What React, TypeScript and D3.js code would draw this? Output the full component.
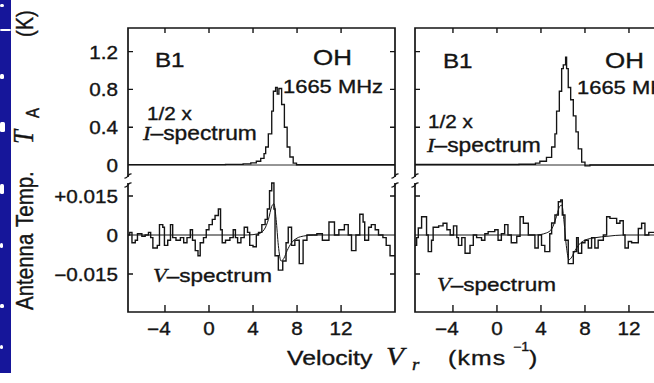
import React from "react";
import * as d3 from "d3";

const W = 654;
const H = 383;
const SX = 1.18; // horizontal stretch of the scanned lettering
const SANS = "'Liberation Sans', Arial, Helvetica, sans-serif";
const SERIF = "'Liberation Serif', 'Times New Roman', serif";
const INK = "#141414";

// ---- ticks ----
const xTicks = [-4, 0, 4, 8, 12];
const iTicks = [0, 0.4, 0.8, 1.2];
const iTickLabels = ["0", "0.4", "0.8", "1.2"];
const vTicks = [-0.015, 0, 0.015];
const vTickLabels = ["\u22120.015", "0", "+0.015"];

// ---- left panel: 1/2 x I-spectrum (step starts, km/s ; K) ----
const leftIVel = [-7.36, 1.5, 3.1, 3.8, 4.3, 4.7, 5.0, 5.15, 5.39, 5.7, 5.85, 6.05, 6.2, 6.35, 6.6, 6.85, 7.1, 7.35, 7.65, 7.95, 16.9];
const leftIVal = [0.004, 0.006, 0.012, 0.022, 0.04, 0.07, 0.12, 0.19, 0.33, 0.57, 0.78, 0.82, 0.75, 0.81, 0.64, 0.4, 0.19, 0.085, 0.02, 0.003, 0.003];

// ---- left panel: V-spectrum (step starts, km/s ; mK) ----
const leftVVel = [-7.36, -7.2, -7.0, -6.7, -6.5, -6.1, -5.8, -5.5, -5.3, -5.1, -4.7, -4.5, -4.2, -4.05, -3.75, -3.5, -3.3, -3.0, -2.6, -2.3, -2.0, -1.7, -1.5, -1.25, -1.0, -0.8, -0.5, -0.25, 0.0, 0.3, 0.55, 0.85, 1.05, 1.2, 1.5, 1.9, 2.2, 2.4, 2.6, 2.9, 3.2, 3.5, 3.7, 4.0, 4.3, 4.5, 4.8, 5.1, 5.3, 5.5, 5.7, 5.9, 6.0, 6.3, 6.7, 7.0, 7.2, 7.5, 7.8, 8.2, 8.55, 8.9, 9.8, 10.3, 10.9, 11.4, 11.8, 12.3, 12.65, 12.95, 13.35, 13.7, 14.0, 14.15, 14.5, 14.75, 15.1, 15.4, 15.8, 16.1, 16.45, 16.9];
const leftVmK = [0, 1, -3, -2, 0.5, -0.5, 0, 1, -1, -5, -4, 4, 3, -4, -2, 4, -1, -2, -1, -3, -1, 2, -2, -6, -8, -3, -1, 2, 4, 6, 7.5, 10, 2, -3, -2, -1, 2, -1, -3, -1, 3, 1, -4, -4.5, 0, 1, 4, 6, 10, 17, 20, 10, -8, -13.5, -10, -3, 3, -4, -2, -11, -2, 0, 0.5, -2, 5, 0, 2, 4, 0, -6, 0, 8, 5, -2, 3, 4, 2, 0, -1, -4, -8, -8];

// ---- left panel: fitted curve (km/s ; mK) ----
const leftFitVel = [-7.36, 3.5, 4.5, 5.0, 5.4, 5.7, 5.9, 6.1, 6.3, 6.55, 6.8, 7.1, 7.5, 8.0, 8.6, 9.5, 16.9];
const leftFitmK = [0, 0, 0.5, 2, 6, 11, 12, 6, -4, -10, -9, -6, -3, -1.2, -0.4, 0, 0];

// ---- right panel: 1/2 x I-spectrum ----
const rightIVel = [-7.45, 2.0, 3.5, 3.9, 4.5, 4.97, 5.27, 5.42, 5.67, 5.88, 6.03, 6.24, 6.33, 6.48, 6.7, 6.94, 7.18, 7.39, 7.7, 8.0, 8.45, 16.8];
const rightIVal = [0.005, 0.008, 0.02, 0.04, 0.08, 0.19, 0.33, 0.57, 0.78, 1.02, 1.06, 1.14, 1.02, 0.82, 0.69, 0.52, 0.35, 0.17, 0.03, -0.01, 0, 0];

// ---- right panel: V-spectrum ----
const rightVVel = [-7.45, -7.3, -7.15, -6.85, -6.4, -6.25, -5.95, -5.8, -5.3, -4.9, -4.55, -4.25, -3.95, -3.65, -3.5, -3.2, -2.9, -2.45, -2.15, -1.85, -1.4, -1.1, -0.8, -0.2, 0.1, 0.4, 0.7, 1.0, 1.3, 1.8, 2.1, 2.4, 2.85, 3.45, 3.75, 4.05, 4.35, 4.8, 4.97, 5.27, 5.58, 5.8, 5.94, 6.18, 6.48, 6.94, 7.24, 7.39, 7.7, 8.0, 8.3, 8.6, 8.9, 9.2, 9.67, 9.97, 10.27, 10.88, 11.18, 11.48, 11.64, 11.94, 12.24, 12.85, 13.15, 13.45, 13.8, 14.5, 16.8];
const rightVmK = [-4, -1, 2.7, 7, 0, -6.4, -2, 3, 3.5, 4.5, 2, 0, 3.5, -1, -4, -1, -7, -4, 0, -1, -2, 0.5, 1.3, 2, -2, 0.5, 4, 0, -3, -0.5, 7, 4.5, 0, -5, 0, -4, -6.4, 0.5, 4.6, 7.7, 12.8, 13.5, 7.7, -2, -11, -6.4, -1, -7, -3, -2, -5, -1, -5, -2, 0, 7, 6.4, 4.5, 5.5, 0, -5, -2.5, -3, 2.5, 4.5, 0, 1, 0, 0];

// ---- right panel: fitted curve ----
const rightFitVel = [-7.45, 3.5, 4.5, 5.0, 5.4, 5.7, 5.9, 6.1, 6.3, 6.55, 6.8, 7.1, 7.5, 8.0, 9.0, 10.0, 11.5, 16.8];
const rightFitmK = [0, 0, 0.8, 2.5, 7, 11, 11.5, 5, -4, -9.5, -8.5, -6, -3.5, -2, -1, -0.5, 0, 0];

type P = { x: number; y: number };

function T(props: { x: number; y: number; size: number; anchor?: string; children: any; family?: string; italic?: boolean; ls?: number }) {
  const { x, y, size, anchor = "start", children, family = SANS, italic, ls = 0 } = props;
  return (
    <text
      transform={`translate(${x},${y}) scale(${SX},1)`}
      fontSize={size}
      fontFamily={family}
      fontStyle={italic ? "italic" : "normal"}
      textAnchor={anchor}
      letterSpacing={ls}
      fill={INK}
      stroke={INK}
      strokeWidth={0.35}
    >
      {children}
    </text>
  );
}

function Brk({ x, y }: { x: number; y: number }) {
  return <path d={`M${x - 3.5},${y + 2} q2,0.3 3.5,-2 t3.5,-2`} fill="none" stroke={INK} strokeWidth={1.3} />;
}

function Panel(props: {
  x0: number;
  x1: number;
  vMin: number;
  vMax: number;
  iVel: number[];
  iVal: number[];
  vVel: number[];
  vmK: number[];
  fitVel: number[];
  fitmK: number[];
  showY: boolean;
  b1: P; oh: P; mhz: P; half: P; ispec: P; vspec: P;
}) {
  const { x0, x1, vMin, vMax } = props;
  const xs = d3.scaleLinear().domain([vMin, vMax]).range([x0, x1]);
  const yI = d3.scaleLinear().domain([0, 1.2]).range([165, 51.6]);
  const yV = d3.scaleLinear().domain([-0.015, 0.015]).range([274, 196]);
  const top = 28, brkTop = 177, brkBot = 183, bottom = 312;

  const step = d3.line<[number, number]>().curve(d3.curveStepAfter);
  const smooth = d3.line<[number, number]>().curve(d3.curveMonotoneX);

  const iPts = props.iVel.map((v, k) => [xs(v), yI(props.iVal[k])] as [number, number]);
  const vPts = props.vVel.map((v, k) => [xs(v), yV(props.vmK[k] / 1000)] as [number, number]);
  const fPts = props.fitVel.map((v, k) => [xs(v), yV(props.fitmK[k] / 1000)] as [number, number]);

  const axis = `M${x0},${brkTop} V${top} H${x1} V${brkTop} M${x0},${brkBot} V${bottom} H${x1} V${brkBot}`;
  let ticks = "";
  xTicks.forEach((t) => {
    ticks += `M${xs(t)},${top} v5 M${xs(t)},${bottom} v-7 `;
  });
  iTicks.filter((t) => t > 0).forEach((t) => {
    ticks += `M${x0},${yI(t)} h5 M${x1},${yI(t)} h-5 `;
  });
  vTicks.filter((t) => t !== 0).forEach((t) => {
    ticks += `M${x0},${yV(t)} h5 M${x1},${yV(t)} h-5 `;
  });

  return (
    <g>
      <path d={axis} fill="none" stroke={INK} strokeWidth={1.7} />
      <path d={ticks} fill="none" stroke={INK} strokeWidth={1.4} />
      <Brk x={x0} y={brkTop - 1} />
      <Brk x={x0} y={brkBot + 2} />
      <Brk x={x1} y={brkTop - 1} />
      <Brk x={x1} y={brkBot + 2} />
      <line x1={x0} x2={x1} y1={yI(0)} y2={yI(0)} stroke={INK} strokeWidth={0.9} />
      <path d={step(iPts) || ""} fill="none" stroke={INK} strokeWidth={1.35} />
      <path d={smooth(fPts) || ""} fill="none" stroke={INK} strokeWidth={1} />
      <path d={step(vPts) || ""} fill="none" stroke={INK} strokeWidth={1.4} />

      {xTicks.map((t) => (
        <g key={"xl" + t}>
          <T x={xs(t)} y={335} size={17.5} anchor="middle">{String(Math.abs(t))}</T>
          {t < 0 ? <T x={xs(t) - 6} y={335} size={17.5} anchor="end">{"\u2212"}</T> : null}
        </g>
      ))}
      {props.showY
        ? iTicks.map((t, k) => (
            <T key={"il" + k} x={x0 - 10} y={yI(t) + 7} size={17.5} anchor="end">{iTickLabels[k]}</T>
          ))
        : null}
      {props.showY
        ? vTicks.map((t, k) => (
            <T key={"vl" + k} x={x0 - 10} y={yV(t) + 7} size={17.5} anchor="end">{vTickLabels[k]}</T>
          ))
        : null}

      <T x={props.b1.x} y={props.b1.y} size={20.5}>B1</T>
      <T x={props.oh.x} y={props.oh.y} size={22}>OH</T>
      <T x={props.mhz.x} y={props.mhz.y} size={18.6}>1665 MHz</T>
      <T x={props.half.x} y={props.half.y} size={17.5}>1/2 x</T>
      <T x={props.ispec.x} y={props.ispec.y} size={19.3}>
        <tspan fontFamily={SERIF} fontStyle="italic">I</tspan>
        {"\u2013spectrum"}
      </T>
      <T x={props.vspec.x} y={props.vspec.y} size={19.1}>
        <tspan fontFamily={SERIF} fontStyle="italic">V</tspan>
        {"\u2013spectrum"}
      </T>
    </g>
  );
}

function BlueEdge() {
  const notches = [
    { y: 4, h: 3, w: 4 },
    { y: 29, h: 2, w: 11 },
    { y: 74, h: 5, w: 4 },
    { y: 122, h: 10, w: 5 },
    { y: 184, h: 10, w: 4 },
    { y: 243, h: 5, w: 3 },
    { y: 304, h: 4, w: 4 },
    { y: 345, h: 4, w: 3 },
  ];
  return (
    <g>
      <rect x={0} y={0} width={11} height={373} fill="#16169a" />
      {notches.map((n, k) => (
        <rect key={k} x={0} y={n.y} width={n.w} height={n.h} rx={1.5} fill="#ffffff" />
      ))}
    </g>
  );
}

function RT(props: { x: number; y: number; size: number; family?: string; italic?: boolean; children: any }) {
  const { x, y, size, family = SANS, italic, children } = props;
  return (
    <text
      transform={`translate(${x},${y}) rotate(-90) scale(1,${SX})`}
      fontSize={size}
      fontFamily={family}
      fontStyle={italic ? "italic" : "normal"}
      fill={INK}
      stroke={INK}
      strokeWidth={0.35}
    >
      {children}
    </text>
  );
}

export default function App() {
  return (
    <svg
      width={W}
      height={H}
      viewBox={`0 0 ${W} ${H}`}
      style={{ position: "fixed", left: 0, top: 0, background: "#fff" }}
    >
      <rect x={0} y={0} width={W} height={H} fill="#fff" />
      <BlueEdge />
      <Panel
        x0={128}
        x1={395}
        vMin={-7.36}
        vMax={16.9}
        iVel={leftIVel}
        iVal={leftIVal}
        vVel={leftVVel}
        vmK={leftVmK}
        fitVel={leftFitVel}
        fitmK={leftFitmK}
        showY={true}
        b1={{ x: 155, y: 67 }}
        oh={{ x: 313, y: 65 }}
        mhz={{ x: 283, y: 93 }}
        half={{ x: 147, y: 120 }}
        ispec={{ x: 143, y: 140 }}
        vspec={{ x: 153, y: 282 }}
      />
      <Panel
        x0={415}
        x1={682}
        vMin={-7.45}
        vMax={16.82}
        iVel={rightIVel}
        iVal={rightIVal}
        vVel={rightVVel}
        vmK={rightVmK}
        fitVel={rightFitVel}
        fitmK={rightFitmK}
        showY={false}
        b1={{ x: 443, y: 68 }}
        oh={{ x: 605, y: 68 }}
        mhz={{ x: 577, y: 94 }}
        half={{ x: 428, y: 128 }}
        ispec={{ x: 427, y: 152 }}
        vspec={{ x: 437, y: 291 }}
      />

      {/* y-axis title */}
      <RT x={33} y={310} size={20.5}>Antenna</RT>
      <RT x={33} y={227} size={20.5}>Temp.</RT>
      <RT x={33} y={144} size={25} family={SERIF} italic>T</RT>
      <RT x={39} y={118} size={15}>A</RT>
      <RT x={33} y={37} size={20}>(K)</RT>

      {/* x-axis title */}
      <T x={287} y={365} size={21}>Velocity</T>
      <T x={386} y={365} size={25} family={SERIF} italic>V</T>
      <T x={412} y={370} size={16} family={SERIF} italic>r</T>
      <T x={448} y={365} size={21} ls={1}>(kms</T>
      <T x={513} y={351} size={12}>{"\u22121"}</T>
      <T x={529} y={365} size={21}>)</T>
    </svg>
  );
}
